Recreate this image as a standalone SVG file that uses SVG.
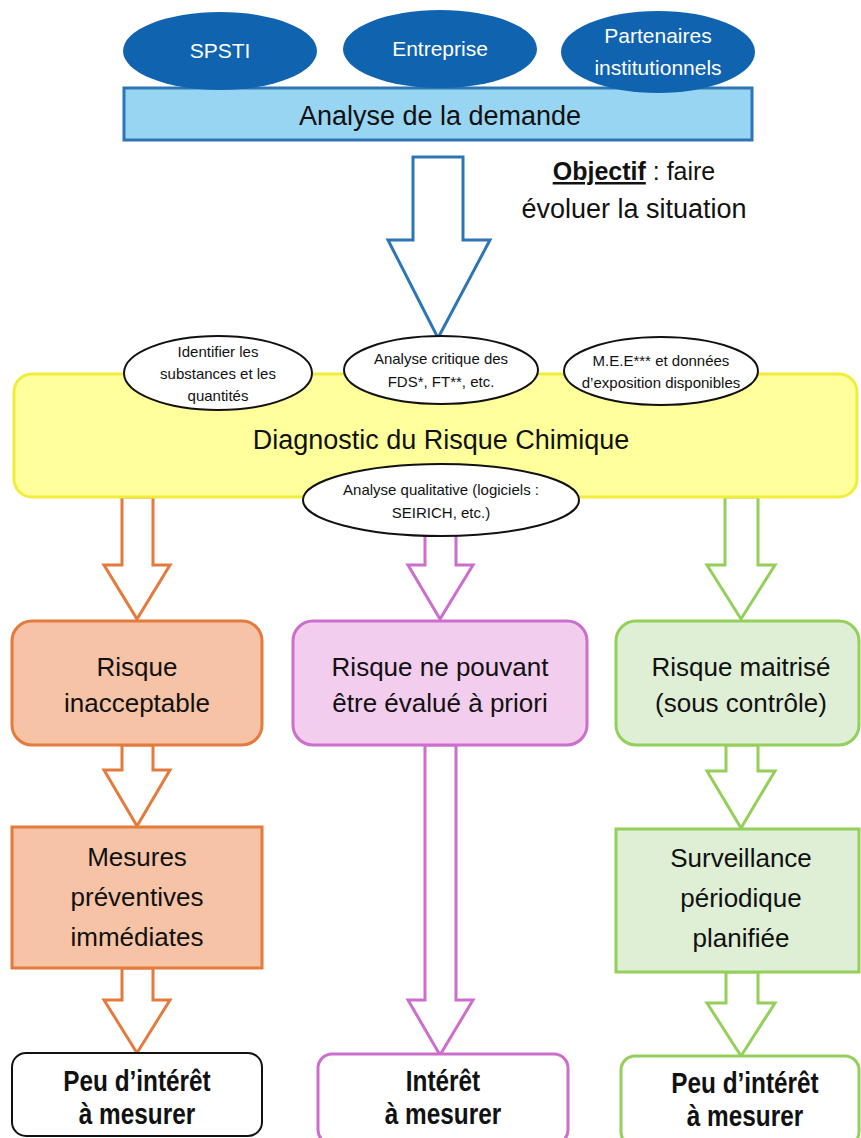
<svg xmlns="http://www.w3.org/2000/svg" width="861" height="1138" viewBox="0 0 861 1138">
<style>
text{font-family:"Liberation Sans",Arial,sans-serif;text-anchor:middle;fill:#111}
.w{fill:#fff;font-size:21px}
.big{font-size:27px}
.box{font-size:26px}
.sm{font-size:15px}
.b{font-weight:bold;font-size:29px}
.blue{fill:#fff;stroke:#2e75b6;stroke-width:3}
.or{fill:#fff;stroke:#e27b3c;stroke-width:3}
.pk{fill:#fff;stroke:#cc6fcc;stroke-width:3}
.gr{fill:#fff;stroke:#94cf5a;stroke-width:3}
.ell{fill:#fff;stroke:#111;stroke-width:2}
</style>
<rect width="861" height="1138" fill="#fff"/>
<g id="connectors">
<path class="blue" d="M413,157 L463,157 L463,240 L490,240 L438,338 L388,240 L413,240 Z"/>
<path class="or" d="M122,497 L153,497 L153,565 L170,565 L137,619 L104,565 L122,565 Z"/>
<path class="pk" d="M425,520 L456,520 L456,565 L473,565 L440,619 L408,565 L425,565 Z"/>
<path class="gr" d="M725,497 L758,497 L758,565 L775,565 L741,619 L707,565 L725,565 Z"/>
<path class="or" d="M122,745 L153,745 L153,770 L170,770 L137,826 L104,770 L122,770 Z"/>
<path class="gr" d="M726,745 L758,745 L758,771 L775,771 L741,828 L707,771 L726,771 Z"/>
<path class="pk" d="M425,745 L456,745 L456,1000 L473,1000 L440,1055 L408,1000 L425,1000 Z"/>
<path class="or" d="M122,968 L153,968 L153,1000 L170,1000 L137,1053 L104,1000 L122,1000 Z"/>
<path class="gr" d="M726,972 L758,972 L758,1003 L775,1003 L741,1056 L707,1003 L726,1003 Z"/>
</g>
<g id="analyse-demande">
<rect x="124" y="88" width="628" height="52" fill="#98d5f3" stroke="#2e75b6" stroke-width="3"/>
<text class="big" x="440" y="125">Analyse de la demande</text>
</g>
<g id="spsti">
<ellipse cx="220" cy="51" rx="97" ry="39" fill="#0f63af"/>
<text class="w" x="220" y="58">SPSTI</text>
</g>
<g id="entreprise">
<ellipse cx="440" cy="49" rx="97" ry="39" fill="#0f63af"/>
<text class="w" x="440" y="56">Entreprise</text>
</g>
<g id="partenaires">
<ellipse cx="658" cy="52" rx="97" ry="41" fill="#0f63af"/>
<text class="w" x="658" y="43">Partenaires</text>
<text class="w" x="658" y="75">institutionnels</text>
</g>
<g id="objectif">
<text x="634" y="180" style="font-size:25px"><tspan font-weight="bold" text-decoration="underline">Objectif</tspan> : faire</text>
<text x="634" y="218" style="font-size:27px">évoluer la situation</text>
</g>
<g id="diagnostic">
<rect x="14" y="374" width="843" height="123" rx="18" fill="#ffff9c" stroke="#f2ec3a" stroke-width="3"/>
<text x="441" y="449" style="font-size:27px">Diagnostic du Risque Chimique</text>
</g>
<g id="identifier">
<ellipse class="ell" cx="218" cy="373" rx="94" ry="37"/>
<text class="sm" x="218" y="357">Identifier les</text>
<text class="sm" x="218" y="379">substances et les</text>
<text class="sm" x="218" y="401">quantités</text>
</g>
<g id="analyse-critique">
<ellipse class="ell" cx="441" cy="370" rx="97" ry="34"/>
<text class="sm" x="441" y="364">Analyse critique des</text>
<text class="sm" x="441" y="387">FDS*, FT**, etc.</text>
</g>
<g id="mee">
<ellipse class="ell" cx="661" cy="371" rx="97" ry="34"/>
<text class="sm" x="661" y="366">M.E.E*** et données</text>
<text class="sm" x="661" y="388">d’exposition disponibles</text>
</g>
<g id="analyse-qualitative">
<ellipse class="ell" cx="441" cy="500" rx="138" ry="36"/>
<text class="sm" x="441" y="495">Analyse qualitative (logiciels :</text>
<text class="sm" x="441" y="518">SEIRICH, etc.)</text>
</g>
<g id="risque-inacceptable">
<rect x="12" y="621" width="250" height="124" rx="20" fill="#f7c3a6" stroke="#e27b3c" stroke-width="3"/>
<text class="box" x="137" y="676">Risque</text>
<text class="box" x="137" y="712">inacceptable</text>
</g>
<g id="risque-non-evalue">
<rect x="293" y="621" width="294" height="124" rx="20" fill="#f2cdee" stroke="#cc6fcc" stroke-width="3"/>
<text class="box" x="440" y="676">Risque ne pouvant</text>
<text class="box" x="440" y="712">être évalué à priori</text>
</g>
<g id="risque-maitrise">
<rect x="616" y="621" width="243" height="124" rx="20" fill="#dfefd6" stroke="#94cf5a" stroke-width="3"/>
<text class="box" x="741" y="676">Risque maitrisé</text>
<text class="box" x="741" y="712">(sous contrôle)</text>
</g>
<g id="mesures">
<rect x="12" y="827" width="250" height="141" fill="#f7c3a6" stroke="#e27b3c" stroke-width="3"/>
<text class="box" x="137" y="866">Mesures</text>
<text class="box" x="137" y="906">préventives</text>
<text class="box" x="137" y="946">immédiates</text>
</g>
<g id="surveillance">
<rect x="616" y="829" width="243" height="143" fill="#dfefd6" stroke="#94cf5a" stroke-width="3"/>
<text class="box" x="741" y="867">Surveillance</text>
<text class="box" x="741" y="907">périodique</text>
<text class="box" x="741" y="947">planifiée</text>
</g>
<g id="peu-interet-1">
<rect x="12" y="1053" width="250" height="83" rx="14" fill="#fff" stroke="#111" stroke-width="2"/>
<g transform="translate(137,0) scale(0.84,1)">
<text class="b" x="0" y="1091">Peu d’intérêt</text>
<text class="b" x="0" y="1124">à mesurer</text>
</g>
</g>
<g id="interet">
<rect x="318" y="1054" width="250" height="90" rx="14" fill="#fff" stroke="#cc6fcc" stroke-width="3"/>
<g transform="translate(443,0) scale(0.84,1)">
<text class="b" x="0" y="1091">Intérêt</text>
<text class="b" x="0" y="1124">à mesurer</text>
</g>
</g>
<g id="peu-interet-2">
<rect x="621" y="1056" width="238" height="90" rx="14" fill="#fff" stroke="#94cf5a" stroke-width="3"/>
<g transform="translate(745,0) scale(0.84,1)">
<text class="b" x="0" y="1093">Peu d’intérêt</text>
<text class="b" x="0" y="1126">à mesurer</text>
</g>
</g>
</svg>
